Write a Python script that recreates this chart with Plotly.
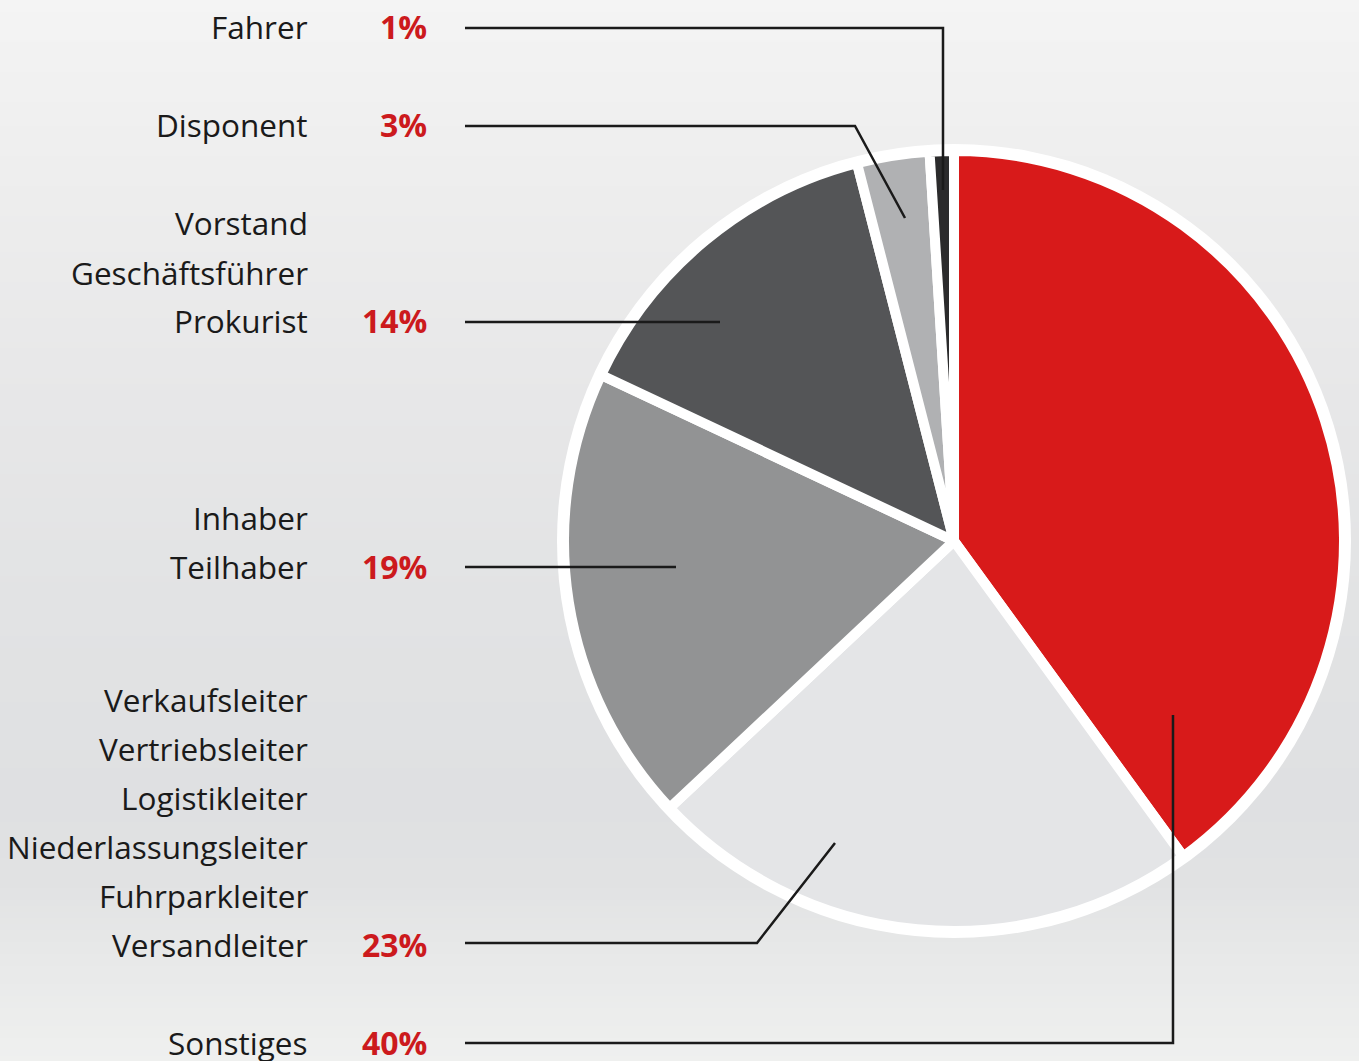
import plotly.graph_objects as go

W, H = 1359, 1061

# ---- data ----
categories = ["Sonstiges", "Versandleiter", "Teilhaber", "Prokurist", "Disponent", "Fahrer"]
values = [40, 23, 19, 14, 3, 1]
pct_labels = ["40%", "23%", "19%", "14%", "3%", "1%"]
label_lines = [
    ["Sonstiges"],
    ["Verkaufsleiter", "Vertriebsleiter", "Logistikleiter", "Niederlassungsleiter", "Fuhrparkleiter", "Versandleiter"],
    ["Inhaber", "Teilhaber"],
    ["Vorstand", "Geschäftsführer", "Prokurist"],
    ["Disponent"],
    ["Fahrer"],
]
colors = ["#d81a1a", "#e4e5e7", "#929394", "#545557", "#b0b1b3", "#2b2b2c"]

# ---- layout helpers (pixel -> paper) ----
def px(x):
    return x / W

def py(y):
    return 1 - y / H

CX, CY, R = 954, 541, 390
LINE_W = 10

# background gradient stops (y pixel, rgb)
grad = [(0, (244, 244, 244)), (200, (237, 237, 237)), (400, (231, 231, 232)),
        (600, (226, 227, 228)), (800, (223, 224, 226)), (880, (225, 226, 227)),
        (960, (232, 233, 233)), (1061, (239, 240, 239))]

def grad_color(y):
    for (y0, c0), (y1, c1) in zip(grad[:-1], grad[1:]):
        if y0 <= y <= y1:
            t = (y - y0) / (y1 - y0)
            c = [round(a + (b - a) * t) for a, b in zip(c0, c1)]
            return f"rgb({c[0]},{c[1]},{c[2]})"
    return "rgb(239,240,239)"

shapes = []
step = 6
for y in range(0, H, step):
    shapes.append(dict(type="rect", xref="paper", yref="paper", layer="below",
                       x0=0, x1=1, y0=py(min(y + step + 1, H)), y1=py(y),
                       line=dict(width=0), fillcolor=grad_color(y + step / 2)))

# white outer ring behind the pie
RO = 397
shapes.append(dict(type="circle", xref="paper", yref="paper", layer="below",
                   x0=px(CX - RO), x1=px(CX + RO), y0=py(CY + RO), y1=py(CY - RO),
                   line=dict(width=0), fillcolor="white"))

fig = go.Figure(go.Pie(
    labels=categories, values=values, sort=False, direction="clockwise", rotation=0,
    marker=dict(colors=colors, line=dict(color="white", width=LINE_W)),
    textinfo="none", hoverinfo="skip", showlegend=False,
    domain=dict(x=[px(CX - R), px(CX + R)], y=[py(CY + R), py(CY - R)]),
))

# label rows: y pixel of the last (percent) line for each category
row_y = {"Sonstiges": 1043, "Versandleiter": 945, "Teilhaber": 567,
         "Prokurist": 322, "Disponent": 126, "Fahrer": 28}
LINE_GAP = 49

annotations = []
font_txt = dict(family="Open Sans", size=31.5, color="#1a1a1a")
font_pct = dict(family="Open Sans", size=32, color="#cc1a1d")
TX, PX = 310, 429
for cat, lines, pct in zip(categories, label_lines, pct_labels):
    y_last = row_y[cat]
    n = len(lines)
    for i, t in enumerate(lines):
        yy = y_last - (n - 1 - i) * LINE_GAP
        annotations.append(dict(text=t, x=px(TX), y=py(yy - 1), xref="paper", yref="paper",
                                xanchor="right", yanchor="middle", showarrow=False, font=font_txt))
    annotations.append(dict(text=f"<b>{pct}</b>", x=px(PX), y=py(y_last - 1), xref="paper", yref="paper",
                            xanchor="right", yanchor="middle", showarrow=False, font=font_pct))

# leader lines
leaders = {
    "Fahrer": [(465, 28), (943, 28), (943, 190)],
    "Disponent": [(465, 126), (855, 126), (905, 218)],
    "Prokurist": [(465, 322), (720, 322)],
    "Teilhaber": [(465, 567), (676, 567)],
    "Versandleiter": [(465, 943), (757, 943), (835, 843)],
    "Sonstiges": [(465, 1043), (1173, 1043), (1173, 715)],
}
for cat in categories:
    pts = leaders[cat]
    path = "M " + " L ".join(f"{px(x):.5f},{py(y):.5f}" for x, y in pts)
    shapes.append(dict(type="path", xref="paper", yref="paper", layer="above", path=path,
                       line=dict(color="#1a1a1a", width=2.5)))

fig.update_layout(
    width=W, height=H, margin=dict(l=0, r=0, t=0, b=0),
    paper_bgcolor="#eeeeee", plot_bgcolor="rgba(0,0,0,0)",
    shapes=shapes, annotations=annotations, showlegend=False,
)

fig.write_html("out.html", config={"displayModeBar": False},
               post_script="document.body.style.margin='0';document.body.style.overflow='hidden';")
